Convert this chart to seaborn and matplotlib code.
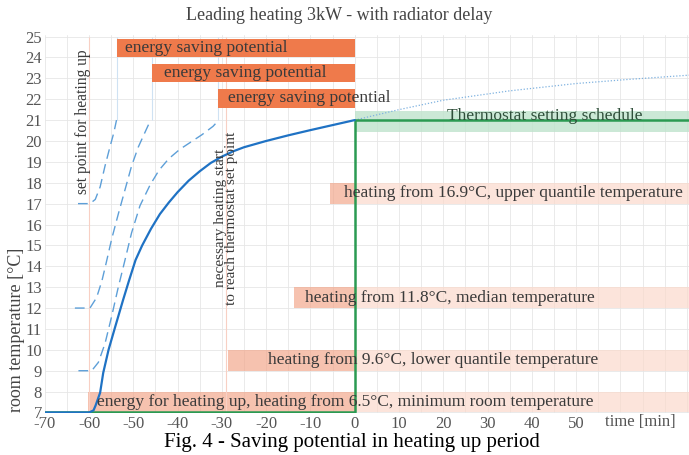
"""
Leading heating 3kW with radiator delay: saving potential in the heating up period
"""
import matplotlib
matplotlib.use("Agg")
import matplotlib.pyplot as plt
import seaborn as sns
import pandas as pd

# main heating curve, starting from 7 degC
main_time = [-70, -60, -59, -58.5, -57.5, -56.8, -55.6, -54.1, -52.3, -51, -49.5, -48, -46, -44,
             -42, -40, -37.5, -35, -32.5, -30, -27.5, -25, -20, -15, -10, -5, 0]
main_temp = [7, 7, 7.1, 7.35, 7.95, 8.9, 10.0, 11.1, 12.4, 13.3, 14.3, 15.0, 15.8, 16.5,
             17.05, 17.55, 18.1, 18.55, 18.95, 19.25, 19.5, 19.7, 20.0, 20.27, 20.52, 20.76, 21]

# continuation after the set point (dotted)
after_time = [0, 10, 20, 35, 50, 62, 75.5]
after_temp = [21.0, 21.5, 21.95, 22.4, 22.75, 22.95, 23.15]

# dashed curves from upper quantile / median / lower quantile temperatures
upper_time = [-62.5, -59.8, -58.6, -57.5, -56.4, -55.3, -54.4, -53.8]
upper_temp = [17, 17, 17.2, 17.8, 18.8, 19.7, 20.4, 21.0]
median_time = [-63.2, -59.8, -58.3, -57.1, -56.2, -54.9, -53.4, -51.9, -50.4, -48.9, -47.4, -46.1]
median_temp = [12, 12, 12.5, 13.3, 14.1, 15.3, 16.5, 17.65, 18.8, 19.7, 20.4, 21.0]
lower_time = [-62.4, -59.4, -57.9, -56.4, -54.9, -53.4, -52.0, -50.4, -48.5, -46.2, -44.2,
              -42, -39.5, -37, -34.5, -32.0, -30.7]
lower_temp = [9, 9, 9.4, 10.3, 11.6, 13.0, 14.2, 15.6, 16.9, 17.9, 18.6, 19.15, 19.6, 19.95,
              20.3, 20.7, 21.0]

# thermostat schedule
schedule_time = [-70, 0, 0, 75.5]
schedule_temp = [7, 7, 21, 21]

# energy saving potential bars
saving_start = [-53.7, -45.8, -30.9]
saving_low = [24.0, 22.8, 21.6]
saving_text_x = [-51.9, -43.1, -28.6]

# heating bars
heat_labels = ["energy for heating up, heating from 6.5°C, minimum room temperature",
               "heating from 9.6°C, lower quantile temperature",
               "heating from 11.8°C, median temperature",
               "heating from 16.9°C, upper quantile temperature"]
heat_start = [-60.2, -28.6, -13.7, -5.6]
heat_low = [7, 9, 12, 17]
heat_text_x = [-58.3, -19.6, -11.3, -2.5]

x_ticks = list(range(-70, 51, 10))
y_ticks = list(range(7, 26))

X_MIN, X_MAX = -70, 75.5

sns.set_style("whitegrid")
plt.rcParams["font.family"] = ["Liberation Serif", "DejaVu Serif"]

fig = plt.figure(figsize=(6.89, 4.55), dpi=100)
ax = fig.add_axes([0.065, 0.0925, 0.935, 0.8295])

ax.grid(True, color="#e6e6e6", linewidth=0.6)
ax.set_axisbelow(True)

# light heating bars, split at the set point
for start, low in zip(heat_start, heat_low):
    ax.barh(low + 0.5, 0 - start, height=1.0, left=start, color="#f2a285", alpha=0.65,
            linewidth=0, zorder=1)
    ax.barh(low + 0.5, X_MAX, height=1.0, left=0, color="#fbd9cc", alpha=0.7,
            linewidth=0, zorder=1)

# thermostat band
ax.barh(20.95, X_MAX, height=1.0, left=0, color="#bfe3cc", alpha=0.8, linewidth=0, zorder=1)

# energy saving bars
for start, low in zip(saving_start, saving_low):
    ax.barh(low + 0.45, 0 - start, height=0.9, left=start, color="#ef7a4b", linewidth=0, zorder=2)

# helper lines
ax.vlines([-53.8, -45.8, -30.8], 21, 25, colors="#cfe2f3", linewidth=0.8, zorder=1)
ax.vlines([-60, -29], 7, 25, colors="#f8d0c4", linewidth=0.8, zorder=1)

# curves
dash_color = "#5d9fd8"
for t, v in [(upper_time, upper_temp), (median_time, median_temp), (lower_time, lower_temp)]:
    sns.lineplot(x=t, y=v, ax=ax, color=dash_color, linewidth=1.0, linestyle=(0, (7, 4)),
                 estimator=None, sort=False, zorder=3)

sns.lineplot(x=after_time, y=after_temp, ax=ax, color="#7fb2e0", linewidth=0.9,
             linestyle=(0, (1, 1.5)), estimator=None, sort=False, zorder=3)

schedule = pd.DataFrame({"time": schedule_time, "temp": schedule_temp})
sns.lineplot(data=schedule, x="time", y="temp", ax=ax, color="#2b9a52", linewidth=1.8,
             estimator=None, sort=False, zorder=4)

sns.lineplot(x=main_time, y=main_temp, ax=ax, color="#1f72c4", linewidth=1.6,
             estimator=None, sort=False, zorder=5)

# texts
txt_color = "#3a3a3a"
for x, low in zip(saving_text_x, saving_low):
    ax.text(x, low + 0.45, "energy saving potential", ha="left", va="center",
            fontsize=12.5, color=txt_color, zorder=6)
for x, low, lab in zip(heat_text_x, heat_low, heat_labels):
    ax.text(x, low + 0.5, lab, ha="left", va="center", fontsize=12.5, color=txt_color, zorder=6)

ax.text(43, 21.2, "Thermostat setting schedule", ha="center", va="center", fontsize=12.5,
        color="#2f4f3a", zorder=6)
ax.text(-61.4, 20.9, "set point for heating up", rotation=90, ha="center", va="center",
        fontsize=11.2, color=txt_color, zorder=6)
ax.text(-29, 16.3, "necessary heating start\nto reach thermostat set point", rotation=90,
        ha="center", va="center", fontsize=11, color=txt_color, linespacing=0.8, zorder=6)

ax.set_xlim(X_MIN, X_MAX)
ax.set_ylim(6.98, 25.05)
ax.set_xticks(list(range(-70, 76, 5)))
ax.set_xticklabels([str(v) if v in x_ticks else "" for v in range(-70, 76, 5)])
ax.set_yticks(y_ticks)
ax.set_yticklabels([str(v) for v in y_ticks])
ax.tick_params(axis="both", labelsize=12, labelcolor="#555555", length=0, pad=2)
ax.set_xlabel("")
ax.set_ylabel("")
for side in ax.spines.values():
    side.set_visible(False)

ax.text(64.5, 6.95, "time [min]", ha="center", va="top", fontsize=12, color="#555555")
fig.text(17 / 689, 1 - 330 / 455, "room temperature [°C]", rotation=90, ha="center",
         va="center", fontsize=13, color="#444444")
fig.text(339 / 689, 1 - 15 / 455, "Leading heating 3kW - with radiator delay", ha="center",
         va="center", fontsize=13, color="#444444")
fig.text(352 / 689, 1 - 442 / 455, "Fig. 4 - Saving potential in heating up period",
         ha="center", va="center", fontsize=15, color="black")

fig.savefig("out.png", dpi=100)
